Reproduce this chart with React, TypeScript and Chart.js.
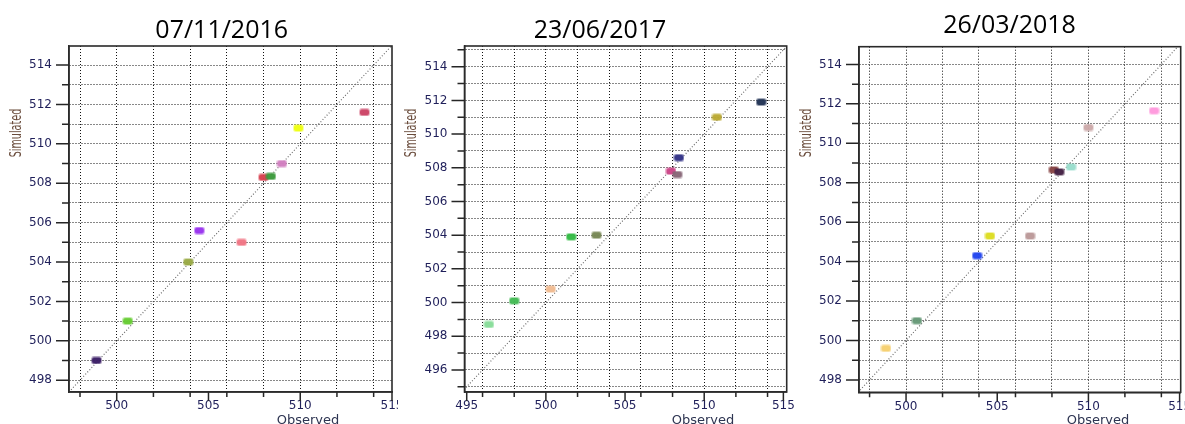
import React, { useEffect, useRef } from "react";
import { Chart, registerables } from "chart.js";

Chart.register(...registerables);

// ---------- data ----------
const titles = ["07/11/2016", "23/06/2017", "26/03/2018"];

const observed2016 = [498.9, 500.6, 503.9, 504.5, 506.8, 508.0, 508.4, 509.0, 509.9, 513.5];
const simulated2016 = [499.0, 501.0, 504.0, 505.6, 505.0, 508.3, 508.35, 509.0, 510.8, 511.6];
const colors2016 = ["#3b1f66", "#66cc33", "#99aa44", "#9933ee", "#f07585", "#d8404f", "#3c9a3c", "#d27fc0", "#eeff11", "#cc4466"];

const observed2017 = [496.4, 498.0, 500.3, 501.6, 503.2, 507.9, 508.3, 508.4, 510.8, 513.6];
const simulated2017 = [498.7, 500.1, 500.8, 503.9, 504.0, 507.8, 507.6, 508.6, 511.0, 511.9];
const colors2017 = ["#88dd99", "#44bb55", "#f0bb90", "#33bb44", "#778855", "#cc4488", "#886677", "#333388", "#bbaa33", "#223355"];

const observed2018 = [498.9, 500.6, 503.9, 504.6, 506.8, 508.1, 508.4, 509.05, 510.0, 513.6];
const simulated2018 = [499.6, 501.0, 504.3, 505.3, 505.3, 508.65, 508.55, 508.8, 510.8, 511.65];
const colors2018 = ["#f5d070", "#669977", "#2244ee", "#dddd22", "#bb9999", "#884444", "#442244", "#99ddcc", "#ccaaaa", "#ff99dd"];

// tick values / labels
const xTicksA = [498, 500, 502, 504, 505, 506, 508, 510, 512, 514, 515];
const xGridA = [498, 500, 502, 504, 506, 508, 510, 512, 514];
const xLabelsA = [500, 505, 510, 515];
const yTicksA = [498, 499, 500, 501, 502, 503, 504, 505, 506, 507, 508, 509, 510, 511, 512, 513, 514];
const yLabelsA = [498, 500, 502, 504, 506, 508, 510, 512, 514];

const xTicksB = [495, 496, 498, 500, 502, 504, 505, 506, 508, 510, 512, 514, 515];
const xGridB = [496, 498, 500, 502, 504, 506, 508, 510, 512, 514];
const xLabelsB = [495, 500, 505, 510, 515];
const yTicksB = [495, 496, 497, 498, 499, 500, 501, 502, 503, 504, 505, 506, 507, 508, 509, 510, 511, 512, 513, 514, 515];
const yLabelsB = [496, 498, 500, 502, 504, 506, 508, 510, 512, 514];

// axis ranges
const rangeA = { xMin: 497.4, xMax: 515.0, yMin: 497.4, yMax: 514.97 };
const rangeB = { xMin: 494.86, xMax: 515.21, yMin: 494.69, yMax: 515.23 };
const rangeC = { xMin: 497.42, xMax: 515.06, yMin: 497.37, yMax: 514.9 };

// ---------- layout (page pixels) ----------
type PanelCfg = {
  title: string;
  obs: number[];
  sim: number[];
  colors: string[];
  xTicks: number[];
  xGrid: number[];
  xLabels: number[];
  yTicks: number[];
  yGrid: number[];
  yLabels: number[];
  range: { xMin: number; xMax: number; yMin: number; yMax: number };
  left: number;
  width: number;
  plotLeft: number;
  plotTop: number;
  plotRight: number;
  plotBottom: number;
  titleX: number;
  titleY: number;
  yLabX: number;
  yLabY: number;
  xLabX: number;
  xLabY: number;
};

const H = 424;

const panels: PanelCfg[] = [
  {
    title: titles[0], obs: observed2016, sim: simulated2016, colors: colors2016,
    xTicks: xTicksA, xGrid: xGridA, xLabels: xLabelsA,
    yTicks: yTicksA, yGrid: yTicksA, yLabels: yLabelsA, range: rangeA,
    left: 0, width: 398, plotLeft: 69, plotTop: 46, plotRight: 392, plotBottom: 392,
    titleX: 221.7, titleY: 38, yLabX: 17, yLabY: 133, xLabX: 308, xLabY: 414,
  },
  {
    title: titles[1], obs: observed2017, sim: simulated2017, colors: colors2017,
    xTicks: xTicksB, xGrid: xGridB, xLabels: xLabelsB,
    yTicks: yTicksB, yGrid: yTicksB, yLabels: yLabelsB, range: rangeB,
    left: 398, width: 396, plotLeft: 66.5, plotTop: 46, plotRight: 388.7, plotBottom: 392,
    titleX: 202, titleY: 38, yLabX: 14, yLabY: 133, xLabX: 305, xLabY: 414,
  },
  {
    title: titles[2], obs: observed2018, sim: simulated2018, colors: colors2018,
    xTicks: xTicksA, xGrid: xGridA, xLabels: xLabelsA,
    yTicks: yTicksA, yGrid: yTicksA, yLabels: yLabelsA, range: rangeC,
    left: 794, width: 391, plotLeft: 65, plotTop: 46.7, plotRight: 386.7, plotBottom: 392.3,
    titleX: 215.5, titleY: 33, yLabX: 13, yLabY: 133, xLabX: 304, xLabY: 414,
  },
];

// ---------- helpers ----------
function rr(g: CanvasRenderingContext2D, x: number, y: number, w: number, h: number, r: number) {
  g.beginPath();
  g.moveTo(x + r, y);
  g.lineTo(x + w - r, y);
  g.quadraticCurveTo(x + w, y, x + w, y + r);
  g.lineTo(x + w, y + h - r);
  g.quadraticCurveTo(x + w, y + h, x + w - r, y + h);
  g.lineTo(x + r, y + h);
  g.quadraticCurveTo(x, y + h, x, y + h - r);
  g.lineTo(x, y + r);
  g.quadraticCurveTo(x, y, x + r, y);
  g.closePath();
}

function makeMarker(color: string): HTMLCanvasElement {
  const c = document.createElement("canvas");
  c.width = 11;
  c.height = 8;
  const g = c.getContext("2d")!;
  g.fillStyle = color;
  g.globalAlpha = 0.4;
  rr(g, 0, 0, 11, 8, 3);
  g.fill();
  g.globalAlpha = 0.95;
  rr(g, 1, 1, 9, 6, 2);
  g.fill();
  return c;
}

const TICK_COLOR = "#1f1f5a";
const GRID_COLOR = "#111111";
const TICK_FONT = { family: "'DejaVu Sans', Verdana, sans-serif", size: 12 };

function Panel({ cfg }: { cfg: PanelCfg }) {
  const ref = useRef<HTMLCanvasElement>(null);

  useEffect(() => {
    const { range } = cfg;
    const lo = Math.min(range.xMin, range.yMin);
    const hi = Math.max(range.xMax, range.yMax);

    const decor = {
      id: "decor",
      afterDraw(chart: any) {
        const { ctx, chartArea: a, scales } = chart;
        const xs = scales.x;
        const ys = scales.y;
        ctx.save();
        // tick marks
        ctx.strokeStyle = "#262626";
        ctx.lineWidth = 1.5;
        ctx.beginPath();
        cfg.xTicks.forEach((v) => {
          const len = cfg.xLabels.includes(v) ? 9 : 5;
          const px = xs.getPixelForValue(v);
          ctx.moveTo(px, a.bottom);
          ctx.lineTo(px, a.bottom + len);
        });
        cfg.yTicks.forEach((v) => {
          const len = cfg.yLabels.includes(v) ? 13 : 7;
          const py = ys.getPixelForValue(v);
          ctx.moveTo(a.left - len, py);
          ctx.lineTo(a.left, py);
        });
        ctx.stroke();
        // frame
        ctx.strokeStyle = "#2a2a2a";
        ctx.lineWidth = 1.6;
        ctx.strokeRect(a.left, a.top, a.right - a.left, a.bottom - a.top);
        // title
        ctx.fillStyle = "#000000";
        ctx.font = "25px 'Open Sans', sans-serif";
        ctx.textAlign = "center";
        ctx.textBaseline = "alphabetic";
        ctx.fillText(cfg.title, cfg.titleX, cfg.titleY);
        // x axis title
        ctx.fillStyle = "#2e3552";
        ctx.font = "13px 'DejaVu Sans', sans-serif";
        ctx.textBaseline = "top";
        ctx.fillText("Observed", cfg.xLabX, cfg.xLabY);
        // y axis title
        ctx.save();
        ctx.translate(cfg.yLabX, cfg.yLabY);
        ctx.rotate(-Math.PI / 2);
        ctx.scale(0.64, 1);
        ctx.fillStyle = "#6a4c3c";
        ctx.font = "15px 'DejaVu Sans', sans-serif";
        ctx.textAlign = "center";
        ctx.textBaseline = "middle";
        ctx.fillText("Simulated", 0, 0);
        ctx.restore();
        ctx.restore();
      },
    };

    const chart = new Chart(ref.current!, {
      type: "scatter",
      data: {
        datasets: [
          {
            data: cfg.obs.map((x, i) => ({ x, y: cfg.sim[i] })),
            pointStyle: cfg.colors.map(makeMarker) as any,
            pointRadius: 5,
            order: 0,
          } as any,
          {
            type: "line",
            data: [
              { x: lo, y: lo },
              { x: hi, y: hi },
            ],
            borderColor: "#6f6f6f",
            borderWidth: 1.2,
            borderDash: [1, 2],
            pointRadius: 0,
            fill: false,
            order: 1,
          } as any,
        ],
      },
      options: {
        animation: false,
        responsive: false,
        maintainAspectRatio: false,
        events: [],
        layout: {
          autoPadding: false,
          padding: { left: 0, top: cfg.plotTop, right: cfg.width - cfg.plotRight, bottom: 0 },
        },
        plugins: {
          legend: { display: false },
          tooltip: { enabled: false },
          title: { display: false },
        },
        scales: {
          x: {
            type: "linear",
            min: range.xMin,
            max: range.xMax,
            afterBuildTicks: (s: any) => {
              s.ticks = cfg.xTicks.map((v) => ({ value: v }));
            },
            afterFit: (s: any) => {
              s.height = H - cfg.plotBottom;
              s.paddingLeft = 0;
              s.paddingRight = 0;
            },
            ticks: {
              autoSkip: false,
              maxRotation: 0,
              minRotation: 0,
              padding: 7,
              color: TICK_COLOR,
              font: TICK_FONT,
              callback: (v: any) => (cfg.xLabels.includes(Number(v)) ? String(v) : ""),
            },
            grid: {
              drawTicks: false,
              lineWidth: 1,
              color: (c: any) => (c.tick && cfg.xGrid.includes(c.tick.value) ? GRID_COLOR : "rgba(0,0,0,0)"),
            },
            border: { display: true, color: "#333333", width: 1.5, dash: [1, 2] },
          },
          y: {
            type: "linear",
            min: range.yMin,
            max: range.yMax,
            afterBuildTicks: (s: any) => {
              s.ticks = cfg.yTicks.map((v) => ({ value: v }));
            },
            afterFit: (s: any) => {
              s.width = cfg.plotLeft;
              s.paddingTop = 0;
              s.paddingBottom = 0;
            },
            ticks: {
              autoSkip: false,
              padding: 17,
              color: TICK_COLOR,
              font: TICK_FONT,
              callback: (v: any) => (cfg.yLabels.includes(Number(v)) ? String(v) : ""),
            },
            grid: {
              drawTicks: false,
              lineWidth: 1,
              color: (c: any) => (c.tick && cfg.yGrid.includes(c.tick.value) ? GRID_COLOR : "rgba(0,0,0,0)"),
            },
            border: { display: true, color: "#333333", width: 1.5, dash: [1, 2] },
          },
        },
      } as any,
      plugins: [decor],
    });
    return () => chart.destroy();
  }, [cfg]);

  return (
    <canvas
      ref={ref}
      width={cfg.width}
      height={H}
      style={{ position: "absolute", left: cfg.left, top: 0, width: cfg.width, height: H }}
    />
  );
}

export default function App() {
  return (
    <div
      style={{
        position: "absolute",
        left: 0,
        top: 0,
        width: 1185,
        height: H,
        background: "#ffffff",
        overflow: "hidden",
      }}
    >
      {panels.map((p, i) => (
        <Panel key={i} cfg={p} />
      ))}
    </div>
  );
}
